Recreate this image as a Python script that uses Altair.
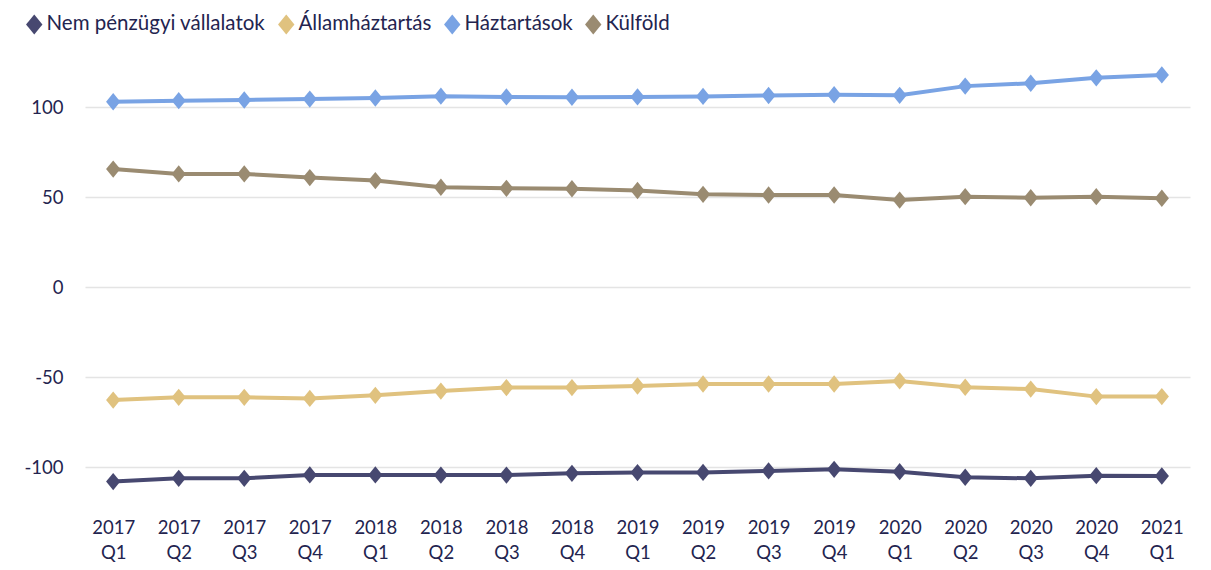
import altair as alt
import pandas as pd

quarters = ["2017 Q1", "2017 Q2", "2017 Q3", "2017 Q4",
            "2018 Q1", "2018 Q2", "2018 Q3", "2018 Q4",
            "2019 Q1", "2019 Q2", "2019 Q3", "2019 Q4",
            "2020 Q1", "2020 Q2", "2020 Q3", "2020 Q4",
            "2021 Q1"]

series_names = ["Nem pénzügyi vállalatok", "Államháztartás", "Háztartások", "Külföld"]
series_colors = ["#474870", "#E0C27F", "#79A3E4", "#9A8B71"]

nem_penzugyi = [-108.1, -106.3, -106.3, -104.4, -104.4, -104.5, -104.5, -103.5,
                -103.1, -103.0, -102.2, -101.3, -102.6, -105.7, -106.3, -104.8, -105.0]
allamhaztartas = [-62.8, -61.3, -61.3, -61.9, -60.2, -57.8, -55.9, -55.9,
                  -55.0, -53.9, -53.9, -53.9, -52.2, -55.7, -56.7, -60.9, -60.9]
haztartasok = [102.9, 103.5, 103.9, 104.4, 105.0, 106.0, 105.6, 105.4,
               105.6, 105.9, 106.4, 106.8, 106.5, 111.6, 113.2, 116.2, 117.8]
kulfold = [65.5, 62.8, 62.8, 60.8, 59.1, 55.4, 54.8, 54.6,
           53.6, 51.5, 51.1, 51.1, 48.3, 50.2, 49.6, 50.2, 49.3]

y_ticks = [-100, -50, 0, 50, 100]

rows = []
for name, vals in zip(series_names, [nem_penzugyi, allamhaztartas, haztartasok, kulfold]):
    for q, v in zip(quarters, vals):
        rows.append({"negyedev": q, "sorozat": name, "ertek": v})
df = pd.DataFrame(rows)

FONT = "Lato"
TEXT = "#23244F"
diamond = "M-0.82,0L0,-1L0.82,0L0,1Z"

x = alt.X("negyedev:N", sort=quarters, title=None,
          scale=alt.Scale(type="point", padding=0.43),
          axis=alt.Axis(labelAngle=0, labelExpr="split(datum.label, ' ')",
                        labelLineHeight=25, labelPadding=33, ticks=False,
                        domain=False, grid=False, labelFontSize=18.5,
                        labelColor=TEXT, labelFont=FONT))
y = alt.Y("ertek:Q", title=None,
          scale=alt.Scale(domain=[-110, 130], nice=False, zero=False),
          axis=alt.Axis(values=y_ticks, ticks=False, domain=False, grid=True,
                        labelExpr="'' + datum.value",
                        gridColor="#E4E4E4", gridWidth=1.6, labelPadding=22,
                        labelFontSize=18.5, labelColor=TEXT, labelFont=FONT))
color = alt.Color("sorozat:N", sort=series_names,
                  scale=alt.Scale(domain=series_names, range=series_colors),
                  legend=alt.Legend(title=None, orient="none", direction="horizontal",
                                    legendX=-61, legendY=-39,
                                    symbolType=diamond, symbolSize=400,
                                    symbolStrokeWidth=0, labelFontSize=20.5,
                                    labelLimit=0,
                                    labelColor=TEXT, labelFont=FONT,
                                    labelOffset=2, columnPadding=10))

base = alt.Chart(df).encode(x=x, y=y, color=color,
                            order=alt.Order("sorozat:N"))
lines = base.mark_line(strokeWidth=4)
points = base.mark_point(shape=diamond, size=300, filled=True, opacity=1)

chart = alt.layer(lines, points).properties(
    width=1105, height=432,
    autosize=alt.AutoSizeParams(type="none"),
    padding={"left": 77, "top": 45, "right": 10, "bottom": 77},
    background="white",
).configure_view(stroke=None)

chart.save("out.html", embed_options={"renderer": "svg", "actions": False})
